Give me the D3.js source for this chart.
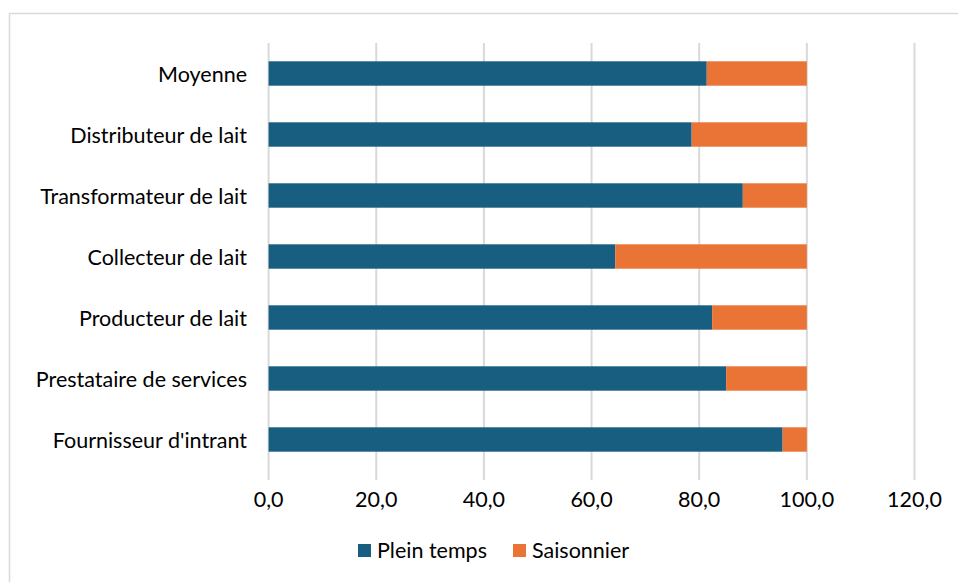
<!DOCTYPE html>
<html><head><meta charset="utf-8">
<script src="https://cdn.jsdelivr.net/npm/d3@7"></script>
<style>body{margin:0;background:#fff}svg{display:block}text{font-family:Lato,"Open Sans",sans-serif;fill:#000}</style>
</head><body>
<script>
const categories = ["Moyenne","Distributeur de lait","Transformateur de lait","Collecteur de lait","Producteur de lait","Prestataire de services","Fournisseur d'intrant"];
const pleinTemps = [81.4, 78.6, 88.1, 64.4, 82.4, 85.0, 95.5];
const saisonnier = [18.6, 21.4, 11.9, 35.6, 17.6, 15.0, 4.5];
const seriesNames = ["Plein temps","Saisonnier"];
const xTicks = [0,20,40,60,80,100,120];

(function(){
const W=958,H=582,FS=21.5;
const svg=d3.select("body").append("svg").attr("width",W).attr("height",H);
svg.append("rect").attr("x",9.5).attr("y",13.5).attr("width",W).attr("height",H).attr("fill","none").attr("stroke","#d9d9d9").attr("stroke-width",1.5);

const pl=268.6,pr=914.5,pt=43,pb=470;
const x=d3.scaleLinear().domain([0,120]).range([pl,pr]);
const y=d3.scaleBand().domain(categories).range([pt,pb]).paddingInner(0.6).paddingOuter(0.3);

svg.append("g").selectAll("line").data(xTicks).join("line")
 .attr("x1",d=>x(d)).attr("x2",d=>x(d)).attr("y1",pt).attr("y2",pb+10)
 .attr("stroke","#d9d9d9").attr("stroke-width",2);

const colors=["#175e81","#e97435"];
const data=categories.map((c,i)=>({c,a:pleinTemps[i],b:saisonnier[i]}));
const g=svg.append("g");
g.selectAll(".a").data(data).join("rect").attr("class","a").attr("x",x(0)).attr("y",d=>y(d.c)).attr("height",y.bandwidth()).attr("width",d=>x(d.a)-x(0)).attr("fill",colors[0]);
g.selectAll(".b").data(data).join("rect").attr("class","b").attr("x",d=>x(d.a)).attr("y",d=>y(d.c)).attr("height",y.bandwidth()).attr("width",d=>x(d.a+d.b)-x(d.a)).attr("fill",colors[1]);

svg.append("g").selectAll("text").data(categories).join("text")
 .attr("x",247).attr("y",d=>y(d)+y.bandwidth()/2+8).attr("text-anchor","end")
 .attr("font-size",FS).text(d=>d);

const fmt=d=>d.toFixed(1).replace(".",",");
svg.append("g").selectAll("text").data(xTicks).join("text")
 .attr("x",d=>x(d)).attr("y",507).attr("text-anchor","middle")
 .attr("font-size",FS).text(fmt);

const leg=svg.append("g");
const lx=[358,513];
seriesNames.forEach((n,i)=>{
 leg.append("rect").attr("x",lx[i]).attr("y",544).attr("width",13).attr("height",13).attr("fill",colors[i]);
 leg.append("text").attr("x",lx[i]+19).attr("y",558).attr("font-size",FS).text(n);
});
})();
</script>
</body></html>
